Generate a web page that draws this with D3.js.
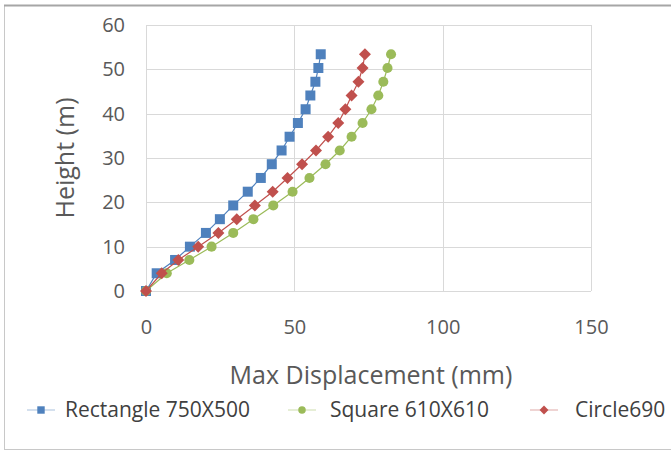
<!DOCTYPE html>
<html><head><meta charset="utf-8">
<script src="https://cdn.jsdelivr.net/npm/d3@7/dist/d3.min.js"></script>
<style>body{margin:0;background:#fff;} svg{display:block;}</style>
</head><body>
<svg id="chart" width="671" height="453"></svg>
<script>
const heights = [0, 4.0, 7.0, 10.0, 13.1, 16.2, 19.3, 22.4, 25.5, 28.6, 31.7, 34.8, 37.9, 41.0, 44.1, 47.2, 50.3, 53.4];
const rectangleDisp = [0, 3.6, 9.8, 14.8, 20.2, 24.9, 29.4, 34.3, 38.7, 42.4, 45.7, 48.4, 51.2, 53.8, 55.4, 57.1, 58.1, 58.9];
const squareDisp = [0, 7.0, 14.6, 22.1, 29.4, 36.2, 42.9, 49.4, 55.1, 60.5, 65.3, 69.3, 73.0, 76.0, 78.3, 80.0, 81.4, 82.6];
const circleDisp = [0, 5.3, 10.9, 17.6, 24.4, 30.6, 36.7, 42.7, 47.7, 52.6, 57.3, 61.4, 64.8, 67.2, 69.3, 71.6, 73.0, 73.8];
const seriesNames = ["Rectangle 750X500", "Square 610X610", "Circle690"];
const xTicks = [0, 50, 100, 150];
const yTicks = [0, 10, 20, 30, 40, 50, 60];
const xTitle = "Max Displacement (mm)";
const yTitle = "Height (m)";

const colors = {"Rectangle 750X500": "#4F81BD", "Square 610X610": "#9BBB59", "Circle690": "#C0504D"};
// rotated-square diamond (Excel style)
const excelDiamond = {draw(ctx, size) { const r = Math.sqrt(size) / Math.SQRT2; ctx.moveTo(0, -r); ctx.lineTo(r, 0); ctx.lineTo(0, r); ctx.lineTo(-r, 0); ctx.closePath(); }};
const shapes = {"Rectangle 750X500": d3.symbolSquare, "Square 610X610": d3.symbolCircle, "Circle690": excelDiamond};
const sizes = {"Rectangle 750X500": 100, "Square 610X610": 80, "Circle690": 72};

const series = [
  {name: seriesNames[0], values: rectangleDisp},
  {name: seriesNames[1], values: squareDisp},
  {name: seriesNames[2], values: circleDisp}
];

const svg = d3.select("#chart");
const font = "'Open Sans', 'Noto Sans', sans-serif";
const textCol = "#595959";

// outer frame
svg.append("rect").attr("x", 4.5).attr("y", 5.5).attr("width", 700).attr("height", 444)
  .attr("fill", "none").attr("stroke", "#c8c8c8").attr("stroke-width", 1);
svg.append("line").attr("x1", 4).attr("x2", 671).attr("y1", 5.5).attr("y2", 5.5)
  .attr("stroke", "#a6a6a6").attr("stroke-width", 2);

const x = d3.scaleLinear().domain([0, 150]).range([146, 591]);
const y = d3.scaleLinear().domain([0, 60]).range([291, 25]);

// gridlines
const g = svg.append("g");
g.selectAll(".hg").data(yTicks).join("line")
  .attr("x1", x(0)).attr("x2", x(150))
  .attr("y1", d => Math.round(y(d)) + 0.5).attr("y2", d => Math.round(y(d)) + 0.5)
  .attr("stroke", "#d9d9d9").attr("stroke-width", 1);
g.selectAll(".vg").data(xTicks).join("line")
  .attr("x1", d => Math.round(x(d)) + 0.5).attr("x2", d => Math.round(x(d)) + 0.5)
  .attr("y1", y(0)).attr("y2", y(60))
  .attr("stroke", "#d9d9d9").attr("stroke-width", 1);

// axes (labels only)
const xAxis = d3.axisBottom(x).tickValues(xTicks).tickSize(0).tickPadding(29);
const xg = svg.append("g").attr("transform", `translate(0,${y(0)})`).call(xAxis);
xg.select(".domain").remove();
xg.selectAll("text").attr("font-family", font).attr("font-size", 20).attr("fill", textCol);

const yAxis = d3.axisLeft(y).tickValues(yTicks).tickSize(0).tickPadding(21);
const yg = svg.append("g").attr("transform", `translate(${x(0)},0)`).call(yAxis);
yg.select(".domain").remove();
yg.selectAll("text").attr("font-family", font).attr("font-size", 20).attr("fill", textCol);

// titles
svg.append("text").attr("x", 371).attr("y", 384).attr("text-anchor", "middle")
  .attr("font-family", font).attr("font-size", 25).attr("fill", textCol).text(xTitle);
svg.append("text").attr("transform", "translate(74,158) rotate(-90)").attr("text-anchor", "middle")
  .attr("font-family", font).attr("font-size", 25).attr("fill", textCol).text(yTitle);

// series
const line = d3.line().x(d => x(d[0])).y(d => y(d[1]));
series.forEach(s => {
  const pts = s.values.map((v, i) => [v, heights[i]]);
  svg.append("path").datum(pts).attr("d", line).attr("fill", "none")
    .attr("stroke", colors[s.name]).attr("stroke-width", 1.2);
  svg.append("g").selectAll("path").data(pts).join("path")
    .attr("transform", d => `translate(${x(d[0])},${y(d[1])})`)
    .attr("d", d3.symbol().type(shapes[s.name]).size(sizes[s.name]))
    .attr("fill", colors[s.name]);
});

// legend
const legendItems = [
  {name: seriesNames[0], mx: 41, tx: 65},
  {name: seriesNames[1], mx: 302, tx: 330},
  {name: seriesNames[2], mx: 544, tx: 575}
];
const ly = 410;
legendItems.forEach(it => {
  svg.append("line").attr("x1", it.mx - 14).attr("x2", it.mx + 14).attr("y1", ly).attr("y2", ly)
    .attr("stroke", colors[it.name]).attr("stroke-width", 1.2).attr("opacity", 0.4);
  svg.append("path").attr("transform", `translate(${it.mx},${ly})`)
    .attr("d", d3.symbol().type(shapes[it.name]).size(sizes[it.name] * 0.55)).attr("fill", colors[it.name]);
  svg.append("text").attr("x", it.tx).attr("y", ly).attr("dy", "0.35em")
    .attr("font-family", font).attr("font-size", 21).attr("fill", "#404040").text(it.name);
});
</script>
</body></html>
